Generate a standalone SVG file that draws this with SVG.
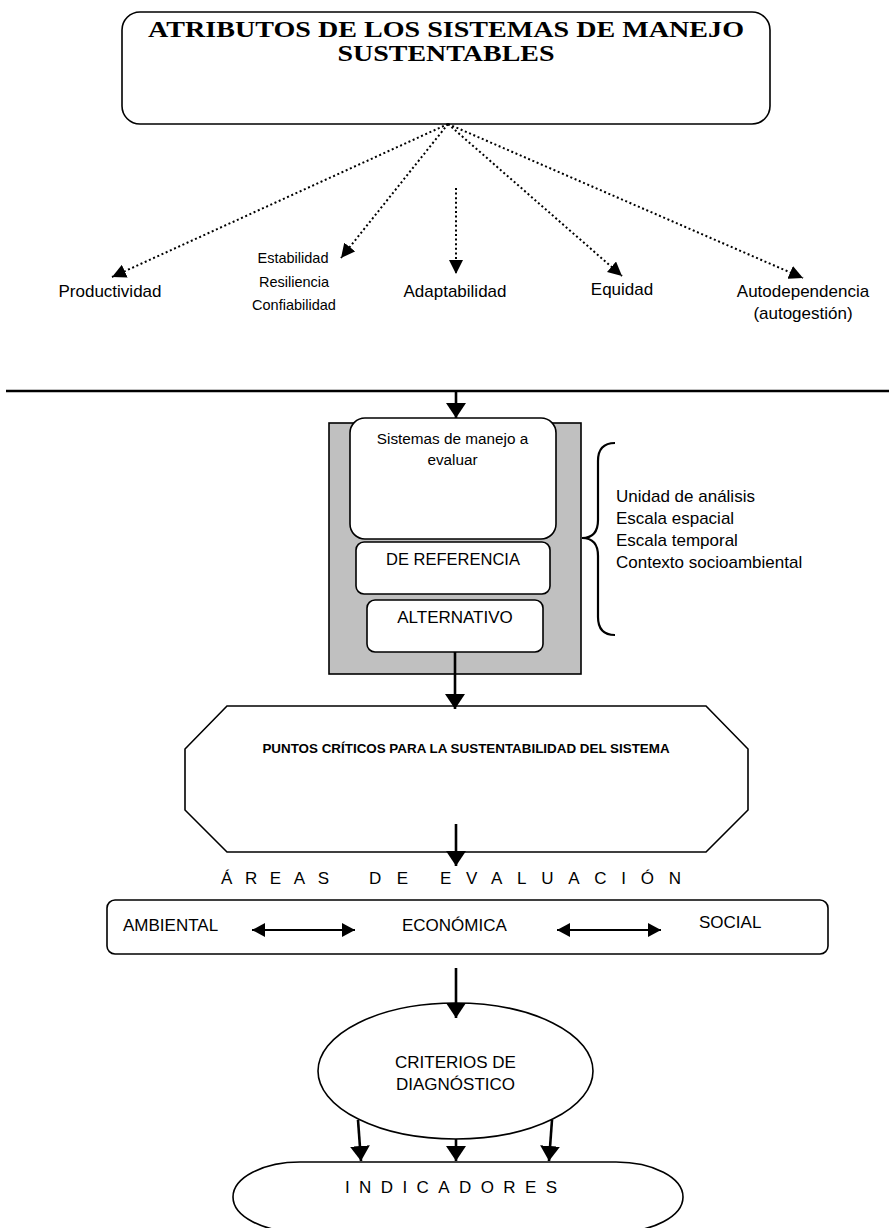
<svg xmlns="http://www.w3.org/2000/svg" width="889" height="1228" viewBox="0 0 889 1228">
  <style>
    .box { fill: #fff; stroke: #000; stroke-width: 1.6; }
    .gray { fill: #c0c0c0; stroke: #000; stroke-width: 1.6; }
    .dot { fill: none; stroke: #000; stroke-width: 2; stroke-dasharray: 2 2.6; }
    .solid { fill: none; stroke: #000; stroke-width: 2.6; }
    .rule { fill: none; stroke: #000; stroke-width: 2.4; }
    .thin { fill: none; stroke: #000; stroke-width: 2.2; }
    .sans { font-family: "Liberation Sans", Arial, sans-serif; fill: #000; }
    .serif { font-family: "Liberation Serif", "Times New Roman", serif; fill: #000; font-weight: bold; }
    .mid { text-anchor: middle; }
  </style>
  <defs>
    <marker id="headSmall" markerUnits="userSpaceOnUse" markerWidth="14" markerHeight="14" refX="14" refY="7" orient="auto">
      <path d="M0,0 L14,7 L0,14 Z" fill="#000"/>
    </marker>
    <marker id="headBig" markerUnits="userSpaceOnUse" markerWidth="16" markerHeight="20" refX="15" refY="10" orient="auto">
      <path d="M0,0 L15,10 L0,20 Z" fill="#000"/>
    </marker>
    <marker id="headMid" markerUnits="userSpaceOnUse" markerWidth="14" markerHeight="14" refX="13" refY="7" orient="auto-start-reverse">
      <path d="M0,0 L13,7 L0,14 Z" fill="#000"/>
    </marker>
  </defs>

  <!-- title -->
  <g id="title">
    <rect class="box" x="122" y="12" width="648" height="112" rx="18"/>
    <text class="serif mid" x="446" y="37" font-size="24" textLength="596" lengthAdjust="spacingAndGlyphs">ATRIBUTOS DE LOS SISTEMAS DE MANEJO</text>
    <text class="serif mid" x="446" y="61" font-size="24" textLength="217" lengthAdjust="spacingAndGlyphs">SUSTENTABLES</text>
  </g>

  <!-- attribute labels -->
  <g id="productividad">
    <text class="sans mid" x="110" y="297" font-size="17">Productividad</text>
  </g>
  <g id="estabilidad">
    <text class="sans mid" x="293" y="263" font-size="14.5">Estabilidad</text>
    <text class="sans mid" x="294" y="287" font-size="14.5">Resiliencia</text>
    <text class="sans mid" x="294" y="310" font-size="14.5">Confiabilidad</text>
  </g>
  <g id="adaptabilidad">
    <text class="sans mid" x="455" y="297" font-size="17">Adaptabilidad</text>
  </g>
  <g id="equidad">
    <text class="sans mid" x="622" y="295" font-size="17">Equidad</text>
  </g>
  <g id="autodependencia">
    <text class="sans mid" x="803" y="297" font-size="17">Autodependencia</text>
    <text class="sans mid" x="803" y="319" font-size="17">(autogestión)</text>
  </g>

  <!-- systems under evaluation -->
  <g id="sistemas">
    <rect class="gray" x="329" y="423" width="252" height="251"/>
    <rect class="box" x="350" y="418" width="206" height="121" rx="15"/>
    <text class="sans mid" x="452.5" y="444" font-size="15.3">Sistemas de manejo a</text>
    <text class="sans mid" x="452.5" y="465" font-size="15.3">evaluar</text>
  </g>
  <g id="referencia">
    <rect class="box" x="356" y="542" width="194" height="52" rx="8"/>
    <text class="sans mid" x="453" y="565" font-size="16.5">DE REFERENCIA</text>
  </g>
  <g id="alternativo">
    <rect class="box" x="367" y="600" width="176" height="52" rx="8"/>
    <text class="sans mid" x="455" y="623" font-size="17">ALTERNATIVO</text>
  </g>

  <!-- analysis context -->
  <g id="contexto">
    <path class="thin" d="M615,443 C604,443 598,449 598,461 V520 C598,532 593,538 582,538 C593,538 598,544 598,556 V617 C598,629 604,635 615,635"/>
    <text class="sans" x="616" y="502" font-size="17">Unidad de análisis</text>
    <text class="sans" x="616" y="524" font-size="17">Escala espacial</text>
    <text class="sans" x="616" y="546" font-size="17">Escala temporal</text>
    <text class="sans" x="616" y="568" font-size="17">Contexto socioambiental</text>
  </g>

  <!-- critical points -->
  <g id="puntos">
    <polygon class="box" points="227,706 706,706 748,749 748,810 706,852 227,852 185,810 185,749"/>
    <text class="sans mid" x="466" y="753" font-size="13.4" font-weight="bold">PUNTOS CRÍTICOS PARA LA SUSTENTABILIDAD DEL SISTEMA</text>
  </g>

  <!-- evaluation areas -->
  <g id="areas-titulo">
    <text class="sans" x="221" y="884" font-size="17" textLength="108" lengthAdjust="spacing">ÁREAS</text>
    <text class="sans" x="369" y="884" font-size="17" textLength="39" lengthAdjust="spacing">DE</text>
    <text class="sans" x="440" y="884" font-size="17" textLength="241" lengthAdjust="spacing">EVALUACIÓN</text>
  </g>
  <g id="areas">
    <rect class="box" x="107" y="900" width="721" height="54" rx="8"/>
    <text class="sans" x="123" y="931" font-size="17">AMBIENTAL</text>
    <text class="sans" x="402" y="931" font-size="17">ECONÓMICA</text>
    <text class="sans" x="699" y="928" font-size="17">SOCIAL</text>
  </g>

  <!-- diagnosis criteria -->
  <g id="criterios">
    <ellipse class="box" cx="455.5" cy="1071" rx="137.5" ry="68"/>
    <text class="sans mid" x="455.5" y="1068" font-size="17">CRITERIOS DE</text>
    <text class="sans mid" x="455.5" y="1090" font-size="17">DIAGNÓSTICO</text>
  </g>

  <!-- indicators -->
  <g id="indicadores">
    <path class="box" d="M300,1162 H616 A67,35 0 0 1 616,1232 H300 A67,35 0 0 1 300,1162 Z"/>
    <text class="sans" x="345" y="1193" font-size="17" textLength="212" lengthAdjust="spacing">INDICADORES</text>
  </g>

  <!-- connectors -->
  <g id="connectors">
    <path class="dot" d="M448,124 L112,277" marker-end="url(#headSmall)"/>
    <path class="dot" d="M448,124 L341,258" marker-end="url(#headSmall)"/>
    <path class="dot" d="M456,188 L456,274" marker-end="url(#headSmall)"/>
    <path class="dot" d="M448,124 L622,276" marker-end="url(#headSmall)"/>
    <path class="dot" d="M448,124 L803,278" marker-end="url(#headSmall)"/>
    <path class="rule" d="M6,391 H889"/>
    <path class="solid" d="M456,391 V418" marker-end="url(#headBig)"/>
    <path class="solid" d="M455,652 V709" marker-end="url(#headBig)"/>
    <path class="solid" d="M456,824 V866" marker-end="url(#headBig)"/>
    <path class="solid" d="M456,968 V1018" marker-end="url(#headBig)"/>
    <path class="thin" d="M252,930 H355" marker-start="url(#headMid)" marker-end="url(#headMid)"/>
    <path class="thin" d="M557,930 H661" marker-start="url(#headMid)" marker-end="url(#headMid)"/>
    <path class="solid" d="M358,1120 L361,1161" marker-end="url(#headBig)"/>
    <path class="solid" d="M456,1139 V1161" marker-end="url(#headBig)"/>
    <path class="solid" d="M552,1120 L549,1161" marker-end="url(#headBig)"/>
  </g>
</svg>
